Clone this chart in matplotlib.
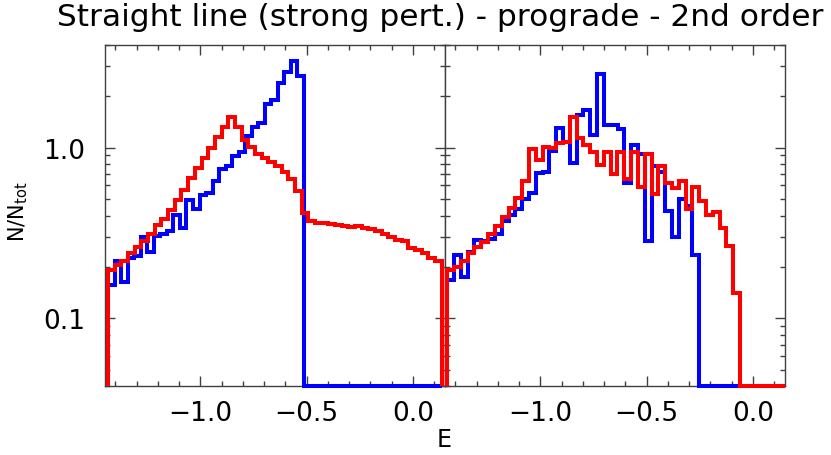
import numpy as np
import matplotlib
matplotlib.use('Agg')
import matplotlib.pyplot as plt
from matplotlib.ticker import FixedLocator, NullFormatter, FixedFormatter, MultipleLocator

# left panel: red over [-1.434, 0.136], blue over [-1.434, -0.512] then empty
left_red = [0.192, 0.206, 0.218, 0.241, 0.262, 0.282, 0.312, 0.351, 0.384, 0.430,
            0.491, 0.565, 0.659, 0.755, 0.865, 0.996, 1.146, 1.32, 1.50, 1.32,
            1.10, 1.005, 0.918, 0.869, 0.82, 0.783, 0.716, 0.653, 0.557, 0.416,
            0.371, 0.363, 0.360, 0.355, 0.350, 0.347, 0.344, 0.347, 0.336, 0.335,
            0.324, 0.313, 0.300, 0.289, 0.282, 0.258, 0.250, 0.241, 0.225, 0.218]
left_red_range = (-1.434, 0.136)
left_blue = [0.157, 0.217, 0.164, 0.225, 0.233, 0.30, 0.245, 0.305, 0.313, 0.324,
             0.402, 0.339, 0.491, 0.435, 0.528, 0.545, 0.638, 0.748, 0.783, 0.897,
             0.939, 1.167, 1.32, 1.39, 1.79, 1.89, 2.38, 2.76, 3.22, 2.64]
left_blue_range = (-1.434, -0.512)
left_blue_empty_to = 0.136

# right panel
right_red = [0.192, 0.201, 0.218, 0.241, 0.262, 0.28, 0.31, 0.347, 0.394, 0.445,
             0.509, 0.638, 0.983, 0.85, 1.005, 1.0, 1.066, 1.08, 1.51, 1.14,
             1.04, 0.947, 0.79, 0.94, 0.70, 0.94, 0.653, 0.94, 0.584, 0.918,
             0.533, 0.783, 0.619, 0.578, 0.638, 0.435, 0.584, 0.486, 0.401, 0.419,
             0.339, 0.264, 0.14]
right_red_range = (-1.438, -0.06)
right_red_empty_to = 0.15
right_blue = [0.168, 0.236, 0.174, 0.245, 0.286, 0.282, 0.29, 0.313, 0.371, 0.401,
              0.435, 0.502, 0.545, 0.709, 0.72, 0.96, 1.30, 1.08, 0.81, 1.545,
              1.65, 1.18, 2.69, 1.36, 1.36, 1.28, 0.619, 1.04, 0.918, 0.282,
              0.783, 0.716, 0.425, 0.30, 0.498, 0.455, 0.236]
right_blue_range = (-1.438, -0.252)
right_blue_empty_to = -0.06

title = 'Straight line (strong pert.) - prograde - 2nd order'
xlim = (-1.45, 0.15)
ylim = (0.04, 4.0)

BLUE = '#0000ff'
RED = '#ff0000'
AXC = '#404040'


def hist_line(ax, vals, rng, color, empty_to=None):
    edges = list(np.linspace(rng[0], rng[1], len(vals) + 1))
    vals = list(vals)
    if empty_to is not None:
        vals.append(ylim[0])
        edges.append(empty_to)
    ax.stairs(vals, edges, baseline=ylim[0], color=color, lw=2.9,
              clip_on=False, zorder=3)


fig = plt.figure(figsize=(8.31, 4.56), dpi=100)
w = 340 / 831
bottom = (456 - 387.3) / 456
height = (387.3 - 45.7) / 456
ax1 = fig.add_axes([104.7 / 831, bottom, w, height])
ax2 = fig.add_axes([444.7 / 831, bottom, w, height])

hist_line(ax1, left_blue, left_blue_range, BLUE, left_blue_empty_to)
hist_line(ax1, left_red, left_red_range, RED)
hist_line(ax2, right_blue, right_blue_range, BLUE, right_blue_empty_to)
hist_line(ax2, right_red, right_red_range, RED, right_red_empty_to)

minor_y = [v * 10.0 ** e for e in (-2, -1, 0) for v in range(2, 10)]
for i, ax in enumerate((ax1, ax2)):
    ax.set_yscale('log')
    ax.set_xlim(*xlim)
    ax.set_ylim(*ylim)
    ax.xaxis.set_major_locator(FixedLocator([-1.0, -0.5, 0.0]))
    ax.xaxis.set_minor_locator(MultipleLocator(0.1))
    ax.set_xticklabels(['\u22121.0', '\u22120.5', '0.0'])
    ax.yaxis.set_major_locator(FixedLocator([0.1, 1.0]))
    ax.yaxis.set_minor_locator(FixedLocator(minor_y))
    ax.yaxis.set_minor_formatter(NullFormatter())
    if i == 0:
        ax.yaxis.set_major_formatter(FixedFormatter(['0.1', '1.0']))
    else:
        ax.yaxis.set_major_formatter(NullFormatter())
    ax.tick_params(which='both', direction='in', top=True, right=True,
                   color=AXC, width=1, labelsize=19, pad=10)
    ax.tick_params(which='major', length=7)
    ax.tick_params(which='minor', length=3.5)
    ax.tick_params(axis='y', pad=14)
    for s in ax.spines.values():
        s.set_color(AXC)
        s.set_linewidth(1)

fig.text(440 / 831, 1 - 18 / 456, title, ha='center', va='center', fontsize=22.5)
fig.text(444 / 831, 1 - 440 / 456, 'E', ha='center', va='center', fontsize=17)
fig.text(18 / 831, 1 - 212 / 456, r'$\mathregular{N/N_{tot}}$', ha='center',
         va='center', rotation=90, fontsize=15)

fig.savefig('out.png', dpi=100)
